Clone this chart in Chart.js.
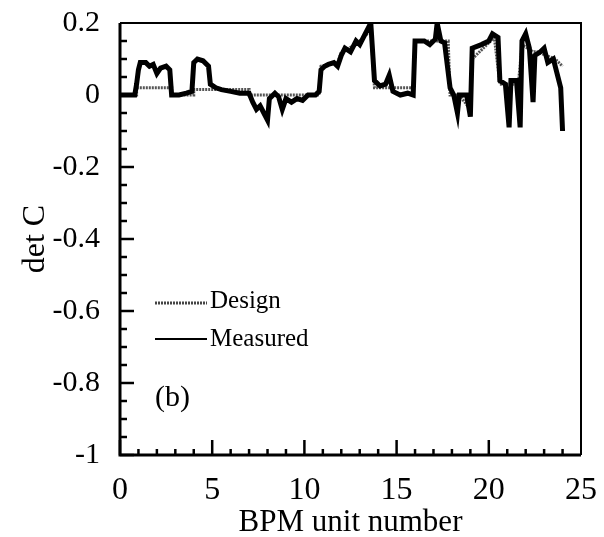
<!DOCTYPE html>
<html>
<head>
<meta charset="utf-8">
<script src="https://cdn.jsdelivr.net/npm/chart.js@4.4.0/dist/chart.umd.min.js"></script>
<style>
  html, body { margin: 0; padding: 0; background: #fff; }
  #wrap { width: 604px; height: 537px; }
</style>
</head>
<body>
<div id="wrap"><canvas id="chart"></canvas></div>
<script>
// BPM unit number vs det C
const measuredX = [0, 0.8, 0.9, 1.0, 1.1, 1.4, 1.6, 1.8, 2.0, 2.2, 2.5, 2.7, 2.8, 3.2, 3.6, 3.9,
    4.0, 4.2, 4.5, 4.8, 4.9, 5.2, 5.5, 6.0, 6.5, 7.0, 7.2, 7.4, 7.6, 7.8, 8.0, 8.1, 8.4, 8.6, 8.8,
    9.0, 9.3, 9.6, 9.9, 10.2, 10.6, 10.8, 10.9, 11.1, 11.3, 11.6, 11.8, 12.0, 12.2, 12.5, 12.8,
    13.0, 13.2, 13.5, 13.6, 13.8, 14.1, 14.4, 14.6, 14.8, 15.2, 15.6, 15.9, 16.0, 16.5, 16.8,
    17.1, 17.2, 17.4, 17.6, 17.9, 18.1, 18.3, 18.4, 18.8, 19.0, 19.1, 19.6, 20.0, 20.2, 20.5,
    20.6, 20.9, 21.1, 21.2, 21.5, 21.7, 21.8, 22.0, 22.2, 22.4, 22.5, 22.8, 23.0, 23.2, 23.5,
    23.7, 23.9, 24.0];
const measuredY = [0, 0, 0.03, 0.07, 0.09, 0.09, 0.08, 0.085, 0.06, 0.075, 0.08, 0.07, 0.0, 0.0, 0.005, 0.01,
    0.09, 0.1, 0.095, 0.08, 0.03, 0.02, 0.015, 0.01, 0.005, 0.005, -0.02, -0.04, -0.03, -0.05, -0.07, -0.01, 0.005, -0.005, -0.04,
    -0.01, -0.02, -0.01, -0.015, 0.0, 0.0, 0.01, 0.07, 0.08, 0.085, 0.09, 0.08, 0.11, 0.13, 0.12, 0.15,
    0.14, 0.16, 0.19, 0.2, 0.04, 0.025, 0.03, 0.055, 0.01, 0.0, 0.005, 0.0, 0.15, 0.15, 0.14,
    0.155, 0.2, 0.15, 0.145, 0.02, 0.0, -0.05, 0.0, 0.0, -0.06, 0.13, 0.14, 0.15, 0.17, 0.16,
    0.04, 0.03, -0.09, 0.04, 0.04, -0.09, 0.15, 0.17, 0.13, -0.02, 0.11, 0.12, 0.13, 0.09, 0.1,
    0.06, 0.02, -0.1];

const designX = [0, 0.9, 0.9, 2.8, 2.8, 4.0, 4.0, 7.0, 7.0, 10.8, 10.9, 11.8, 12.0, 12.8, 13.2, 13.6,
    13.8, 15.9, 16.0, 17.8, 17.9, 18.4, 19.0, 19.1, 20.3, 20.6, 21.6, 21.8, 22.4, 22.6, 23.6, 24.0];
const designY = [0, 0, 0.02, 0.02, 0.0, 0.0, 0.015, 0.015, 0.0, 0.0, 0.08, 0.09, 0.12, 0.14, 0.16, 0.18,
    0.02, 0.02, 0.15, 0.15, 0.0, 0.0, -0.04, 0.1, 0.16, 0.03, 0.03, 0.14, 0.12, 0.12, 0.1, 0.08];

const xTickLabels = [0, 5, 10, 15, 20, 25];
const yTickLabels = [0.2, 0, -0.2, -0.4, -0.6, -0.8, -1];

const serif = '"Liberation Serif", "DejaVu Serif", serif';

function pairs(xs, ys) {
    return xs.map((x, i) => ({ x: x, y: ys[i] }));
}

// frame, inward ticks, legend and panel label
const framePlugin = {
    id: 'frame',
    afterDraw(chart) {
        const { ctx, chartArea: a, scales } = chart;
        const xs = scales.x, ys = scales.y;
        ctx.save();
        ctx.strokeStyle = '#000';
        ctx.lineWidth = 3;
        ctx.beginPath();
        ctx.moveTo(a.left, a.top);
        ctx.lineTo(a.left, a.bottom);
        ctx.lineTo(a.right, a.bottom);
        ctx.stroke();
        ctx.lineWidth = 2;
        ctx.beginPath();
        ctx.moveTo(a.left, a.top);
        ctx.lineTo(a.right, a.top);
        ctx.lineTo(a.right, a.bottom);
        ctx.stroke();

        // x ticks: minor every 1, major every 5
        ctx.lineWidth = 2.5;
        for (let v = 0; v < 25; v++) {
            const px = xs.getPixelForValue(v);
            const len = v % 5 === 0 ? 15 : 6;
            ctx.beginPath();
            ctx.moveTo(px, a.bottom);
            ctx.lineTo(px, a.bottom - len);
            ctx.stroke();
        }
        // y ticks: every 0.05, longer every 0.2
        for (let i = 0; i < 24; i++) {
            const v = -1 + i * 0.05;
            const py = ys.getPixelForValue(v);
            const len = i % 4 === 0 ? 14 : 7;
            ctx.beginPath();
            ctx.moveTo(a.left, py);
            ctx.lineTo(a.left + len, py);
            ctx.stroke();
        }

        // legend
        const x0 = 155, x1 = 207;
        ctx.font = '25px ' + serif;
        ctx.fillStyle = '#000';
        ctx.textBaseline = 'middle';
        ctx.lineWidth = 3;
        ctx.strokeStyle = '#444';
        ctx.setLineDash([2, 1]);
        ctx.beginPath();
        ctx.moveTo(x0, 303);
        ctx.lineTo(x1, 303);
        ctx.stroke();
        ctx.setLineDash([]);
        ctx.strokeStyle = '#000';
        ctx.lineWidth = 2;
        ctx.beginPath();
        ctx.moveTo(x0, 339);
        ctx.lineTo(x1, 339);
        ctx.stroke();
        ctx.fillText('Design', x1 + 3, 301);
        ctx.fillText('Measured', x1 + 3, 339);
        ctx.font = '30px ' + serif;
        ctx.fillText('(b)', 155, 398);
        ctx.restore();
    }
};

new Chart(document.getElementById('chart'), {
    type: 'scatter',
    data: {
        datasets: [{
            label: 'Measured',
            data: pairs(measuredX, measuredY),
            showLine: true,
            borderColor: '#000',
            borderWidth: 5,
            pointRadius: 0,
            tension: 0
        }, {
            label: 'Design',
            data: pairs(designX, designY),
            showLine: true,
            borderColor: '#555',
            borderWidth: 3,
            borderDash: [2, 1],
            pointRadius: 0,
            tension: 0
        }]
    },
    options: {
        responsive: true,
        maintainAspectRatio: false,
        animation: false,
        layout: { padding: { top: 23, right: 23, left: 0, bottom: 0 } },
        plugins: { legend: { display: false }, tooltip: { enabled: false } },
        scales: {
            x: {
                type: 'linear',
                min: 0, max: 25,
                afterBuildTicks: s => { s.ticks = xTickLabels.map(v => ({ value: v })); },
                afterFit: s => { s.height = 82; s.paddingLeft = 0; s.paddingRight = 0; },
                grid: { display: false, drawTicks: false },
                border: { display: false },
                ticks: { color: '#000', font: { family: serif, size: 32 }, padding: 16, maxRotation: 0 },
                title: { display: true, text: 'BPM unit number', color: '#000', font: { family: serif, size: 31 }, padding: { top: 0, bottom: -4 } }
            },
            y: {
                type: 'linear',
                min: -1, max: 0.2,
                afterBuildTicks: s => { s.ticks = yTickLabels.map(v => ({ value: v })); },
                afterFit: s => { s.width = 120; s.paddingTop = 0; s.paddingBottom = 0; },
                grid: { display: false, drawTicks: false },
                border: { display: false },
                ticks: { color: '#000', font: { family: serif, size: 30 }, padding: 20, callback: v => String(v) },
                title: { display: true, text: 'det C', color: '#000', font: { family: serif, size: 32 }, padding: { top: 16, bottom: 0 } }
            }
        }
    },
    plugins: [framePlugin]
});
</script>
</body>
</html>
